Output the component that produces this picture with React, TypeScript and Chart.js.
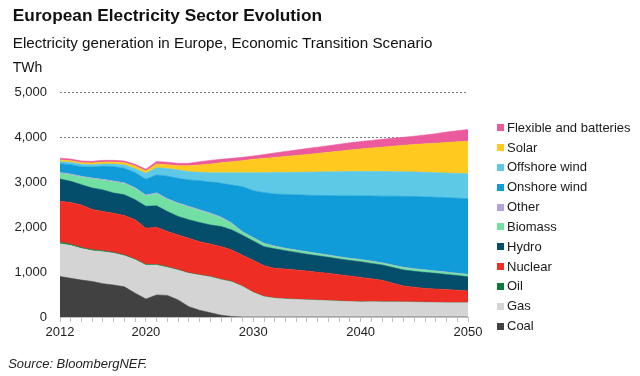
import React, { useEffect, useRef } from "react";
import { Chart, registerables } from "chart.js";

Chart.register(...registerables);

const years = [
  "2012", "2013", "2014", "2015", "2016", "2017", "2018", "2019", "2020", "2021",
  "2022", "2023", "2024", "2025", "2026", "2027", "2028", "2029", "2030", "2031",
  "2032", "2033", "2034", "2035", "2036", "2037", "2038", "2039", "2040", "2041",
  "2042", "2043", "2044", "2045", "2046", "2047", "2048", "2049", "2050",
];
const labeledYears = ["2012", "2020", "2030", "2040", "2050"];
const yTicks = [0, 1000, 2000, 3000, 4000, 5000];

const coal = [900, 860, 820, 790, 740, 710, 670, 530, 400, 490, 480, 380, 230, 150, 95, 40, 10,
  0, 0, 0, 0, 0, 0, 0, 0, 0, 0, 0, 0, 0, 0, 0, 0, 0, 0, 0, 0, 0, 0];
const gas = [730, 730, 700, 685, 710, 705, 690, 740, 750, 660, 620, 660, 740, 780, 795, 790, 770,
  680, 545, 452, 415, 400, 390, 380, 372, 363, 352, 342, 335, 338, 335, 335, 333, 330, 325, 320, 316, 315, 315];
const oil = [30, 28, 25, 22, 20, 20, 18, 17, 15, 15, 14, 12, 10, 10, 8, 8, 7, 6, 5,
  5, 5, 5, 5, 4, 4, 4, 4, 4, 4, 4, 3, 3, 3, 3, 3, 3, 3, 3, 3];
const nuclear = [910, 927, 945, 893, 875, 870, 877, 873, 810, 830, 786, 773, 770, 735, 722, 727, 703,
  684, 710, 684, 661, 662, 650, 638, 619, 603, 584, 565, 541, 508, 477, 412, 354, 327, 307, 297, 291, 277, 262];
const hydro = [495, 470, 450, 475, 480, 450, 460, 445, 485, 475, 445, 410, 410, 425, 425, 445, 445,
  445, 430, 422, 434, 407, 390, 371, 365, 356, 350, 344, 348, 340, 340, 350, 355, 355, 355, 350, 335, 325, 315];
const biomass = [125, 143, 170, 205, 215, 245, 250, 245, 230, 270, 265, 280, 280, 265, 245, 190, 135,
  65, 63, 67, 53, 44, 45, 49, 45, 42, 40, 40, 42, 45, 40, 45, 50, 50, 50, 45, 45, 45, 45];
const other = [20, 20, 20, 20, 20, 20, 20, 20, 20, 20, 20, 20, 20, 20, 20, 20, 20,
  15, 12, 10, 10, 10, 10, 10, 10, 10, 10, 10, 10, 10, 10, 10, 10, 10, 10, 10, 10, 10, 10];
const onshore = [198, 207, 211, 243, 288, 321, 319, 337, 349, 396, 500, 547, 584, 645, 690, 750, 843,
  1001, 1042, 1123, 1155, 1197, 1225, 1256, 1287, 1319, 1353, 1385, 1410, 1443, 1481, 1529, 1577, 1603, 1620, 1637, 1652, 1665, 1677];
const offshore = [44, 52, 52, 52, 52, 59, 74, 89, 134, 163, 170, 185, 186, 185, 207, 237, 274,
  311, 400, 444, 477, 487, 500, 510, 520, 529, 537, 543, 545, 547, 547, 546, 544, 544, 545, 545, 546, 550, 558];
const solar = [38, 37, 37, 37, 44, 44, 52, 60, 51, 81, 85, 96, 130, 163, 193, 223, 245,
  267, 297, 318, 335, 356, 375, 392, 413, 434, 455, 477, 500, 520, 542, 565, 589, 610, 633, 655, 679, 702, 721];
const flexible = [40, 36, 37, 38, 37, 37, 37, 37, 41, 55, 55, 52, 55, 74, 80, 74, 74,
  74, 74, 85, 100, 112, 120, 133, 140, 145, 155, 160, 165, 170, 175, 177, 180, 186, 197, 213, 233, 248, 259];

const seriesNames = ["Coal", "Gas", "Oil", "Nuclear", "Hydro", "Biomass", "Other", "Onshore wind", "Offshore wind", "Solar", "Flexible and batteries"];
const seriesData = [coal, gas, oil, nuclear, hydro, biomass, other, onshore, offshore, solar, flexible];
const seriesColors = ["#414141", "#d4d4d4", "#0b7a3a", "#ee2e24", "#044e6b", "#71e0a2", "#b4a3d8", "#0f9cd8", "#5dc9e6", "#ffc91f", "#ec5a9e"];

const SANS = '"Liberation Sans", Arial, sans-serif';

export default function App() {
  const ref = useRef<HTMLCanvasElement>(null);

  useEffect(() => {
    document.body.style.margin = "0";
    const canvas = ref.current;
    if (!canvas) return;
    const chart = new Chart(canvas, {
      type: "line",
      data: {
        labels: years,
        datasets: seriesNames.map((name, i) => ({
          label: name,
          data: seriesData[i],
          backgroundColor: seriesColors[i],
          borderColor: seriesColors[i],
          borderWidth: 0.6,
          pointRadius: 0,
          tension: 0,
          fill: i === 0 ? "origin" : "-1",
        })),
      },
      options: {
        animation: false,
        responsive: false,
        maintainAspectRatio: false,
        layout: { padding: { left: 8, right: 172, top: 92, bottom: 29 } },
        plugins: { legend: { display: false }, tooltip: { enabled: false } },
        scales: {
          x: {
            grid: { display: true, drawOnChartArea: false, drawTicks: true, tickLength: 5, color: "#bfbfbf" },
            border: { display: true, color: "#bfbfbf" },
            ticks: {
              autoSkip: false,
              maxRotation: 0,
              minRotation: 0,
              padding: 3,
              color: "#222",
              font: { family: SANS, size: 13 },
              callback: (_v: any, i: number) => (labeledYears.includes(years[i]) ? years[i] : ""),
            },
            afterFit: (s: any) => {
              s.height = 30;
            },
          },
          y: {
            stacked: true,
            min: yTicks[0],
            max: yTicks[yTicks.length - 1],
            afterBuildTicks: (s: any) => {
              s.ticks = yTicks.map((v) => ({ value: v }));
            },
            ticks: {
              padding: 13,
              color: "#222",
              font: { family: SANS, size: 13 },
              callback: (v: any) => Number(v).toLocaleString("en-US"),
            },
            grid: { color: "#7a7a7a", drawTicks: false, lineWidth: 1 },
            border: { display: false, dash: [2, 2] },
            afterFit: (s: any) => {
              s.width = 52;
            },
          },
        },
      },
    });
    return () => chart.destroy();
  }, []);

  const legendOrder = [...seriesNames].map((n, i) => ({ n, c: seriesColors[i] })).reverse();

  return (
    <div style={{ position: "absolute", left: 0, top: 0, width: 640, height: 376, background: "#fff", overflow: "hidden" }}>
      <canvas ref={ref} width={640} height={376} style={{ position: "absolute", left: 0, top: 0, width: 640, height: 376 }} />
      <div style={{ position: "absolute", left: 12.8, top: 7.1, fontFamily: SANS, fontWeight: "bold", fontSize: 17.3, lineHeight: "17.3px", color: "#111", whiteSpace: "nowrap" }}>
        European Electricity Sector Evolution
      </div>
      <div style={{ position: "absolute", left: 12.8, top: 34.8, fontFamily: SANS, fontSize: 15.2, lineHeight: "15.2px", color: "#111", whiteSpace: "nowrap" }}>
        Electricity generation in Europe, Economic Transition Scenario
      </div>
      <div style={{ position: "absolute", left: 12.8, top: 59.5, fontFamily: SANS, fontSize: 14, lineHeight: "14px", color: "#111", whiteSpace: "nowrap" }}>
        TWh
      </div>
      {legendOrder.map((item, i) => (
        <div key={item.n} style={{ position: "absolute", left: 497, top: 127.7 + i * 19.83 - 8, height: 16, display: "flex", alignItems: "center", whiteSpace: "nowrap" }}>
          <span style={{ display: "inline-block", width: 7, height: 7, background: item.c, marginRight: 3 }} />
          <span style={{ fontFamily: SANS, fontSize: 13, lineHeight: "16px", color: "#1a1a1a" }}>{item.n}</span>
        </div>
      ))}
      <div style={{ position: "absolute", left: 8.2, top: 357, fontFamily: SANS, fontStyle: "italic", fontSize: 13, lineHeight: "13px", color: "#222", whiteSpace: "nowrap" }}>
        Source: BloombergNEF.
      </div>
    </div>
  );
}
